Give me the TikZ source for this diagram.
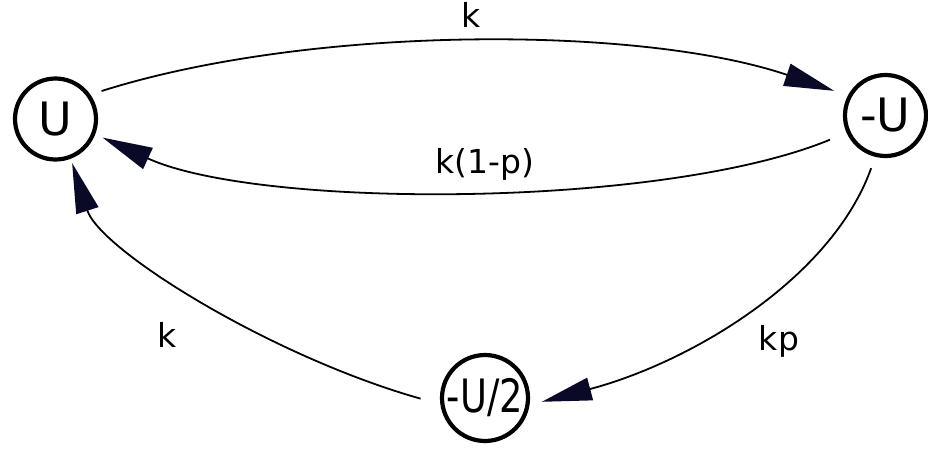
\documentclass[tikz,border=0pt]{standalone}
\usepackage{fontspec}
\setmainfont{DejaVu Sans}
\usetikzlibrary{arrows.meta}
\definecolor{navy}{RGB}{10,10,40}
\begin{document}
\begin{tikzpicture}[x=1pt,y=-1pt,
  state/.style={circle,draw=black,line width=4.2pt,inner sep=0pt,font=\fontsize{46}{46}\selectfont},
  conn/.style={line width=1.8pt,-{Triangle[length=50pt,width=23pt,fill=navy,color=navy]}},
  lbl/.style={anchor=base,font=\fontsize{33}{33}\selectfont}]
\useasboundingbox (0,0) rectangle (928,450);
\node[state,minimum size=81pt] (U) at (55.5,119) {U};
\node[state,minimum size=81pt] (mU) at (885.5,115.5) {-U};
\node[state,minimum size=86pt] (mU2) at (485,398) {\scalebox{0.8}[1]{-U/2}};
% k : U -> -U
\draw[conn,shorten <=11.7pt,shorten >=14.5pt] (U.35) .. controls (310,25) and (640,25) .. (mU.152);
% k(1-p) : -U -> U
\draw[conn,shorten <=18pt,shorten >=8pt] (mU.204) .. controls (662,209) and (258,209) .. (U.-21);
% kp : -U -> -U/2
\draw[conn,shorten <=12pt,shorten >=12.7pt] (mU.-104) .. controls (832,278) and (692,362) .. (mU2.-9);
% k : -U/2 -> U
\draw[conn,shorten <=20.6pt,shorten >=4.5pt] (mU2.188) .. controls (270,356) and (100,250) .. (U.-69);
\node[lbl] (l1) at (471,27) {k};
\node[lbl] (l2) at (485,173) {k(1-p)};
\node[lbl] (l3) at (167,347) {k};
\node[lbl] (l4) at (779,350) {kp};
\end{tikzpicture}
\end{document}
